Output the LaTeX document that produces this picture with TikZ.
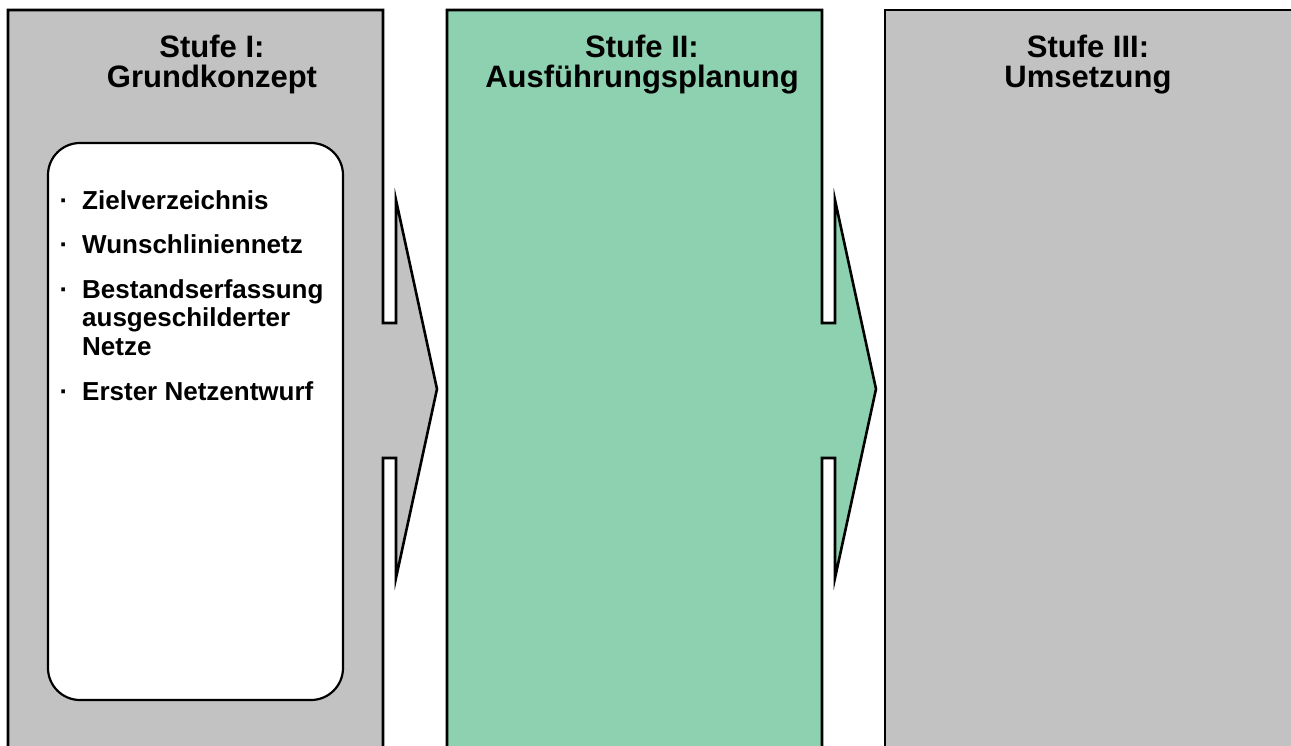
\documentclass[tikz,border=0pt]{standalone}
\usepackage{fontspec}
\setmainfont{Liberation Sans}
\usetikzlibrary{positioning}

\definecolor{stufegray}{RGB}{194,194,194}
\definecolor{stufegreen}{RGB}{142,209,176}

\newcommand{\stufedot}{\llap{\textperiodcentered\hspace{14pt}}}

\begin{document}
\begin{tikzpicture}[x=1pt,y=1pt,
	panel/.style={draw=black,line width=2.6pt,line join=miter},
	stufetitle/.style={anchor=north,inner sep=0pt,align=center,font=\fontsize{31}{30}\selectfont\bfseries},
	stufeitem/.style={anchor=base west,inner sep=0pt,align=left,font=\fontsize{26}{28.5}\selectfont\bfseries}]

		\clip (0,0) rectangle (1291,-745);
		\fill[white] (0,0) rectangle (1291,-745);

		% Stufe I with arrow
		\draw [panel,fill=stufegray] (8,-10) -- (383,-10) -- (383,-323) -- (396,-323) -- (396,-200)
			-- (437,-389) -- (396,-578) -- (396,-458) -- (383,-458) -- (383,-770) -- (8,-770) -- cycle;
		% Stufe II with arrow
		\draw [panel,fill=stufegreen] (447,-10) -- (822,-10) -- (822,-323) -- (835,-323) -- (835,-200)
			-- (876,-389) -- (835,-578) -- (835,-458) -- (822,-458) -- (822,-770) -- (447,-770) -- cycle;
		% Stufe III
		\draw [panel,fill=stufegray] (885,-770) -- (885,-10) -- (1310,-10) -- (1310,-770) -- cycle;

		% titles
		\node (titleI) [stufetitle] at (212,-35) {Stufe I:\\Grundkonzept};
		\node (titleII) [stufetitle] at (642,-35) {Stufe II:\\Ausführungsplanung};
		\node (titleIII) [stufetitle] at (1088,-35) {Stufe III:\\Umsetzung};

		% list of Stufe I (base of a multi-line node is its last line)
		\draw [line width=2.2pt,fill=white,rounded corners=32pt] (48,-143) rectangle (343,-700);
		\node (item1) [stufeitem] at (82,-209) {\stufedot Zielverzeichnis};
		\node (item2) [below = 44pt of item1.base west,stufeitem] {\stufedot Wunschliniennetz};
		\node (item3) [below = 102pt of item2.base west,stufeitem] {\stufedot Bestandserfassung\\ausgeschilderter\\Netze};
		\node (item4) [below = 45pt of item3.base west,stufeitem] {\stufedot Erster Netzentwurf};
	\end{tikzpicture}
\end{document}
